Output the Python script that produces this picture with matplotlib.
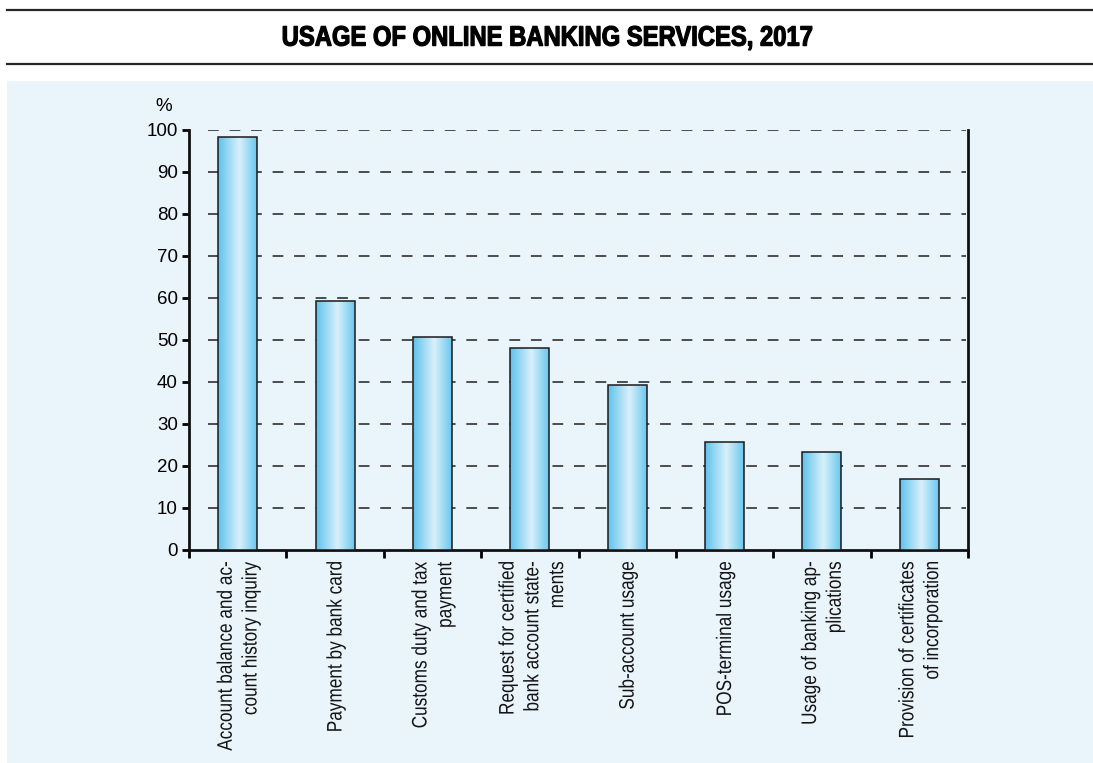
import matplotlib
matplotlib.use("Agg")
import matplotlib.pyplot as plt
import numpy as np
from matplotlib.colors import LinearSegmentedColormap
from matplotlib.patches import Rectangle, PathPatch
from matplotlib.lines import Line2D
from matplotlib.textpath import TextPath
from matplotlib.font_manager import FontProperties
from matplotlib.path import Path
from matplotlib.transforms import Affine2D, IdentityTransform

# --- data -------------------------------------------------------------
categories = [
    "Account balance and ac-\ncount history inquiry",
    "Payment by bank card",
    "Customs duty and tax\npayment",
    "Request for certified\nbank account state-\nments",
    "Sub-account usage",
    "POS-terminal usage",
    "Usage of banking ap-\nplications",
    "Provision of certificates\nof incorporation",
]
usage_pct = [98.3, 59.4, 50.6, 48.2, 39.3, 25.6, 23.3, 16.9]
y_ticks = [0, 10, 20, 30, 40, 50, 60, 70, 80, 90, 100]
title = "USAGE OF ONLINE BANKING SERVICES, 2017"

FONT = "Liberation Sans"
PANEL = "#EAF4FB"
W, H = 1093, 763


def condensed_path(text, size_px, squeeze, weight="normal", rotation=0,
                   linespacing=1.2, align="right"):
    """Outline of (multi-line) text, horizontally condensed, in pixel units."""
    prop = FontProperties(family=FONT, weight=weight)
    verts, codes = [], []
    lines = text.split("\n")
    widths = [TextPath((0, 0), ln, size=size_px, prop=prop).get_extents().x1
              for ln in lines]
    for i, (ln, w) in enumerate(zip(lines, widths)):
        tp = TextPath((0, 0), ln, size=size_px, prop=prop)
        v = tp.vertices.copy()
        if align == "right":
            v[:, 0] -= w
        elif align == "center":
            v[:, 0] -= w / 2
        v[:, 1] -= i * size_px * linespacing
        verts.append(v)
        codes.append(tp.codes)
    path = Path(np.concatenate(verts), np.concatenate(codes))
    tr = Affine2D().scale(squeeze, 1).rotate_deg(rotation)
    return tr.transform_path(path)


def place(fig, path, cx=None, top=None, cy=None, **kw):
    """Shift a pixel-unit path so its box is centred on cx and top/cy."""
    ext = path.get_extents()
    dx = cx - (ext.x0 + ext.x1) / 2
    dy = (top - ext.y1) if top is not None else (cy - (ext.y0 + ext.y1) / 2)
    p = Affine2D().translate(dx, dy).transform_path(path)
    patch = PathPatch(p, transform=IdentityTransform(), **kw)
    fig.add_artist(patch)
    return patch


fig = plt.figure(figsize=(W / 100, H / 100), dpi=100)
fig.patch.set_facecolor("white")

# header rules and title
for ypx in (9.5, 63.5):
    fig.add_artist(Line2D([7 / W, 1], [1 - ypx / H] * 2, color="#262626",
                          lw=1.6, transform=fig.transFigure))
title_path = condensed_path(title, 28.0, 0.85, weight="bold", align="center")
place(fig, title_path, cx=W / 2 + 1, cy=H - 38, facecolor="black",
      edgecolor="black", lw=0.9, zorder=5)

# light blue panel
fig.add_artist(Rectangle((7 / W, 0), 1 - 7 / W, 1 - 81 / H,
                         transform=fig.transFigure, facecolor=PANEL,
                         edgecolor="none", zorder=0))

ax = fig.add_axes([189 / W, 1 - 550 / H, (968 - 189) / W, (550 - 130) / H])
ax.set_facecolor("none")

x = np.arange(len(categories))
bars = ax.bar(x, usage_pct, width=0.40, facecolor="none",
              edgecolor="#1a1a1a", linewidth=1.1, zorder=4)

# horizontal gradient inside each bar
cmap = LinearSegmentedColormap.from_list(
    "barfill", [(0.0, "#5FC2EC"), (0.55, "#D9F0FB"), (1.0, "#6AC7EE")])
grad = np.linspace(0, 1, 256).reshape(1, -1)
for b in bars:
    bx, bw, bh = b.get_x(), b.get_width(), b.get_height()
    im = ax.imshow(grad, cmap=cmap, aspect="auto", interpolation="bicubic",
                   extent=[bx, bx + bw, 0, bh], zorder=3)
    im.set_clip_path(b)

ax.set_xlim(-0.5, len(categories) - 0.5)
ax.set_ylim(0, 100)

# dashed gridlines
for t in y_ticks[1:]:
    ax.axhline(t, xmin=0.024, xmax=0.997, color="#383838", lw=1.25,
               linestyle=(0, (6.2, 6.2)), zorder=1)

# spines and ticks
ax.spines["top"].set_visible(False)
for side in ("left", "right", "bottom"):
    ax.spines[side].set_linewidth(2.0)
    ax.spines[side].set_color("#111111")

ax.set_yticks(y_ticks)
ax.set_yticklabels([str(t) for t in y_ticks], fontsize=13.5, family=FONT)
ax.tick_params(axis="y", direction="out", length=5, width=2, pad=3)
ax.set_xticks(np.arange(len(categories) + 1) - 0.5)
ax.set_xticklabels([])
ax.tick_params(axis="x", direction="out", length=6, width=2)

ax.text(-0.765, 105.5, "%", ha="center", va="center", fontsize=13.5,
        family=FONT)

# rotated, condensed category labels below each bar
fig.canvas.draw()
for xi, lab in zip(x, categories):
    cx, _ = ax.transData.transform((xi, 0))
    p = condensed_path(lab, 21.0, 0.82, rotation=90, linespacing=1.18)
    place(fig, p, cx=cx + 1, top=H - 562, facecolor="#151515",
          edgecolor="none", zorder=5)

fig.savefig("out.png", dpi=100, facecolor="white")
